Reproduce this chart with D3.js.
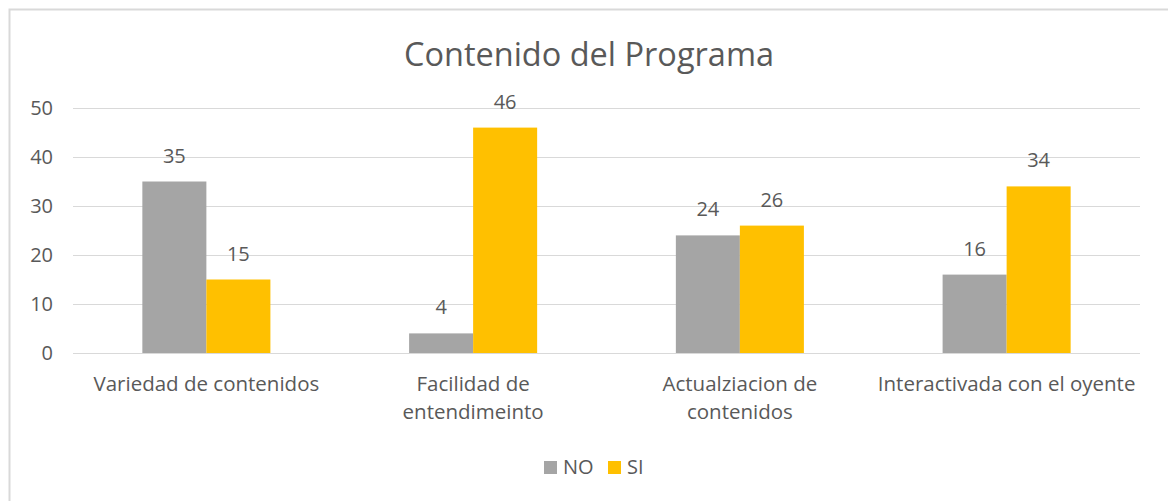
<!DOCTYPE html>
<html>
<head>
<meta charset="utf-8">
<script src="https://cdn.jsdelivr.net/npm/d3@7"></script>
<style>
  body { margin: 0; background: #fff; }
  text { font-family: "Open Sans", sans-serif; fill: #595959; }
</style>
</head>
<body>
<div id="chart"></div>
<script>
var categories = [["Variedad de contenidos"], ["Facilidad de", "entendimeinto"], ["Actualziacion de", "contenidos"], ["Interactivada con el oyente"]];
var series = ["NO", "SI"];
var noValues = [35, 4, 24, 16];
var siValues = [15, 46, 26, 34];
var yTicks = [0, 10, 20, 30, 40, 50];
var colors = ["#A5A5A5", "#FFC000"];

var W = 1168, H = 501;
var margin = {top: 108, right: 28, bottom: 148, left: 73},
    width = W - margin.left - margin.right,
    height = H - margin.top - margin.bottom;

var svg = d3.select("#chart").append("svg")
    .attr("width", W).attr("height", H);

// outer frame
svg.append("rect")
  .attr("x", 9.5).attr("y", 9.5)
  .attr("width", W + 20).attr("height", H + 20)
  .attr("fill", "none").attr("stroke", "#D9D9D9").attr("stroke-width", 2);

svg.append("text")
  .attr("x", 589).attr("y", 66)
  .attr("text-anchor", "middle")
  .style("font-size", "32.5px")
  .text("Contenido del Programa");

var g = svg.append("g")
  .attr("transform", "translate(" + margin.left + "," + margin.top + ")");

var x0 = d3.scaleBand()
  .domain(d3.range(categories.length))
  .range([0, width]);

var x1 = d3.scaleBand()
  .domain(series)
  .range([x0.step() * 0.26, x0.step() * 0.74]);

var y = d3.scaleLinear()
  .domain([0, 50])
  .range([height, 0]);

// gridlines
g.selectAll(".grid")
  .data(yTicks)
  .enter().append("line")
    .attr("x1", 0).attr("x2", width)
    .attr("y1", d => y(d) + 0.5).attr("y2", d => y(d) + 0.5)
    .attr("stroke", "#D9D9D9").attr("stroke-width", 1);

// y axis labels
var yAxis = g.append("g")
  .call(d3.axisLeft(y).tickValues(yTicks).tickSize(0).tickPadding(20));
yAxis.select(".domain").remove();
yAxis.selectAll("text")
  .style("font-size", "20px")
  .attr("fill", "#595959")
  .style("font-family", "'Open Sans', sans-serif");

var rows = categories.map((c, i) => ({i: i, vals: [noValues[i], siValues[i]]}));

var groups = g.selectAll(".cat")
  .data(rows)
  .enter().append("g")
    .attr("transform", d => "translate(" + x0(d.i) + ",0)");

groups.selectAll("rect")
  .data(d => d.vals.map((v, k) => ({s: series[k], v: v, k: k})))
  .enter().append("rect")
    .attr("x", d => x1(d.s))
    .attr("width", x1.bandwidth())
    .attr("y", d => y(d.v))
    .attr("height", d => height - y(d.v))
    .attr("fill", d => colors[d.k]);

groups.selectAll(".val")
  .data(d => d.vals.map((v, k) => ({s: series[k], v: v, k: k})))
  .enter().append("text")
    .attr("x", d => x1(d.s) + x1.bandwidth() / 2)
    .attr("y", d => y(d.v) - 19)
    .attr("text-anchor", "middle")
    .style("font-size", "20px")
    .text(d => d.v);

// category labels
groups.selectAll(".cat-label")
  .data(d => categories[d.i])
  .enter().append("text")
    .attr("text-anchor", "middle")
    .style("font-size", "20.5px")
    .attr("x", x0.step() / 2)
    .attr("y", (d, j) => height + 38 + j * 28)
    .text(d => d);

// legend
var legend = svg.append("g").attr("transform", "translate(544,467)");
var legItems = legend.selectAll("g")
  .data(series)
  .enter().append("g")
    .attr("transform", (d, i) => "translate(" + (i * 64) + ",0)");
legItems.append("rect")
  .attr("x", 0).attr("y", -6)
  .attr("width", 13).attr("height", 13)
  .attr("fill", (d, i) => colors[i]);
legItems.append("text")
  .attr("x", 19).attr("y", 7)
  .style("font-size", "20px")
  .text(d => d);
</script>
</body>
</html>
